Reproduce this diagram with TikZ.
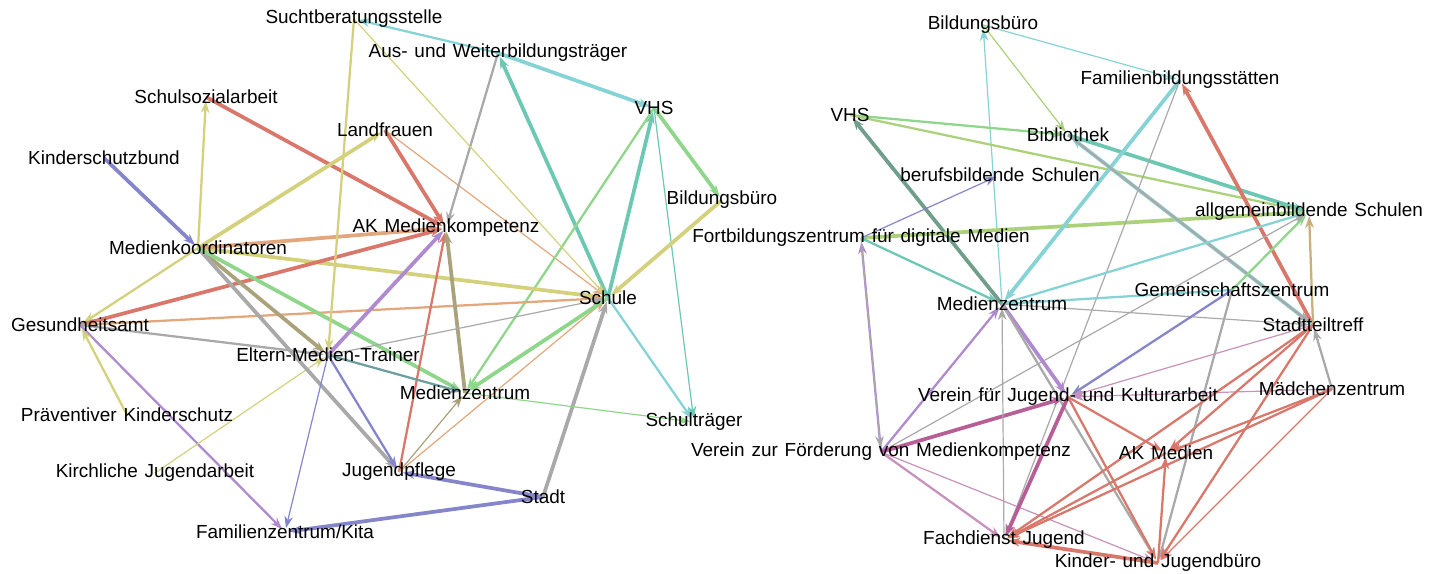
\documentclass[tikz,border=0pt]{standalone}
\usepackage{fontspec}
\setmainfont{Liberation Sans}[WordSpace=1.3]
\usetikzlibrary{arrows.meta,backgrounds}

\definecolor{yel}{HTML}{D4D17C}
\definecolor{red}{HTML}{D9776A}
\definecolor{ora}{HTML}{E3A77D}
\definecolor{gry}{HTML}{A9A9A9}
\definecolor{cya}{HTML}{86D3D6}
\definecolor{tea}{HTML}{6CC7B3}
\definecolor{grn}{HTML}{8ED68A}
\definecolor{ygr}{HTML}{ABD27A}
\definecolor{blu}{HTML}{8585CC}
\definecolor{pur}{HTML}{B08AD0}
\definecolor{oli}{HTML}{A9A27A}
\definecolor{stl}{HTML}{6E9FA0}
\definecolor{mag}{HTML}{B85E96}
\definecolor{pnk}{HTML}{C792BB}
\definecolor{tan}{HTML}{C8B07E}
\definecolor{dtg}{HTML}{6F9E8A}

\begin{document}
\begin{tikzpicture}[x=0.75pt, y=-0.75pt,
    label style/.style={font=\fontsize{14.2}{16}\selectfont, text=black, inner sep=0pt},
    link/.style={-{Stealth[length=9pt,width=6.5pt]}, line width=1.7pt, shorten >=3pt},
    thin link/.style={link, line width=0.9pt},
    heavy link/.style={link, line width=2.8pt},
    ]
    \useasboundingbox (0,0) rectangle (1445,574);

    % left network
    \node[label style] (sucht) at (354,19) {Suchtberatungsstelle};
    \node[label style] (auw) at (498,53) {Aus- und Weiterbildungsträger};
    \node[label style] (vhsL) at (654,108) {VHS};
    \node[label style] (ssa) at (206,97) {Schulsozialarbeit};
    \node[label style] (lf) at (385,130) {Landfrauen};
    \node[label style] (ksb) at (104,158) {Kinderschutzbund};
    \node[label style] (akmk) at (446,228) {AK Medienkompetenz};
    \node[label style] (bbL) at (722,200) {Bildungsbüro};
    \node[label style] (mk) at (198,248) {Medienkoordinatoren};
    \node[label style] (schule) at (608,298) {Schule};
    \node[label style] (ga) at (80,325) {Gesundheitsamt};
    \node[label style] (emt) at (328,355) {Eltern-Medien-Trainer};
    \node[label style] (mzL) at (465,393) {Medienzentrum};
    \node[label style] (stt) at (694,422) {Schulträger};
    \node[label style] (pks) at (127,415) {Präventiver Kinderschutz};
    \node[label style] (kja) at (155,473) {Kirchliche Jugendarbeit};
    \node[label style] (jp) at (399,472) {Jugendpflege};
    \node[label style] (stadt) at (543,497) {Stadt};
    \node[label style] (fzk) at (285,532) {Familienzentrum/Kita};

    % right network
    \node[label style] (bbR) at (983,25) {Bildungsbüro};
    \node[label style] (fbs) at (1180,80) {Familienbildungsstätten};
    \node[label style] (vhsR) at (850,115) {VHS};
    \node[label style] (bib) at (1068,135) {Bibliothek};
    \node[label style] (bbs) at (1000,175) {berufsbildende Schulen};
    \node[label style] (abs) at (1309,212) {allgemeinbildende Schulen};
    \node[label style] (fzdm) at (861,238) {Fortbildungszentrum für digitale Medien};
    \node[label style] (mzR) at (1002,304) {Medienzentrum};
    \node[label style] (gz) at (1232,290) {Gemeinschaftszentrum};
    \node[label style] (st) at (1313,325) {Stadtteiltreff};
    \node[label style] (mdz) at (1332,389) {Mädchenzentrum};
    \node[label style] (vjk) at (1068,397) {Verein für Jugend- und Kulturarbeit};
    \node[label style] (vfm) at (881,452) {Verein zur Förderung von Medienkompetenz};
    \node[label style] (akm) at (1166,453) {AK Medien};
    \node[label style] (fdj) at (1004,540) {Fachdienst Jugend};
    \node[label style] (kjb) at (1158,563) {Kinder- und Jugendbüro};

    \begin{pgfonlayer}{background}
    \draw[heavy link, blu] (ksb.center) -- (mk.center);
    \draw[link, yel] (mk.center) -- (ssa.center);
    \draw[heavy link, red] (ssa.center) -- (akmk.center);
    \draw[heavy link, yel] (mk.center) -- (lf.center);
    \draw[link, yel] (mk.center) -- (ga.center);
    \draw[heavy link, red] (lf.center) -- (akmk.center);
    \draw[thin link, ora] (lf.center) -- (schule.center);
    \draw[link, gry] (auw.center) -- (akmk.center);
    \draw[link, cya] (auw.center) -- (sucht.center);
    \draw[heavy link, cya] (auw.center) -- (vhsL.center);
    \draw[heavy link, tea] (schule.center) -- (auw.center);
    \draw[heavy link, tea] (schule.center) -- (vhsL.center);
    \draw[link, grn] (vhsL.center) -- (mzL.center);
    \draw[heavy link, grn] (vhsL.center) -- (bbL.center);
    \draw[thin link, tea] (vhsL.center) -- (stt.center);
    \draw[link, cya] (schule.center) -- (stt.center);
    \draw[heavy link, yel] (bbL.center) -- (schule.center);
    \draw[heavy link, yel] (mk.center) -- (schule.center);
    \draw[heavy link, ora] (mk.center) -- (akmk.center);
    \draw[heavy link, red] (ga.center) -- (akmk.center);
    \draw[link, ora] (ga.center) -- (schule.center);
    \draw[link, gry] (ga.center) -- (emt.center);
    \draw[link, pur] (ga.center) -- (fzk.center);
    \draw[link, yel] (pks.center) -- (ga.center);
    \draw[thin link, yel] (kja.center) -- (emt.center);
    \draw[heavy link, oli] (mk.center) -- (emt.center);
    \draw[heavy link, gry] (mk.center) -- (jp.center);
    \draw[link, blu] (emt.center) -- (jp.center);
    \draw[heavy link, grn] (mk.center) -- (mzL.center);
    \draw[heavy link, pur] (emt.center) -- (akmk.center);
    \draw[thin link, blu] (emt.center) -- (fzk.center);
    \draw[link, red] (jp.center) -- (akmk.center);
    \draw[heavy link, oli] (mzL.center) -- (akmk.center);
    \draw[thin link, oli] (jp.center) -- (mzL.center);
    \draw[thin link, ora] (jp.center) -- (schule.center);
    \draw[heavy link, blu] (stadt.center) -- (jp.center);
    \draw[heavy link, blu] (stadt.center) -- (fzk.center);
    \draw[heavy link, gry] (stadt.center) -- (schule.center);
    \draw[thin link, grn] (mzL.center) -- (stt.center);
    \draw[heavy link, grn] (schule.center) -- (mzL.center);
    \draw[link, yel] (sucht.center) -- (emt.center);
    \draw[thin link, yel] (sucht.center) -- (schule.center);
    \draw[link, stl] (emt.center) -- (mzL.center);
    \draw[thin link, gry] (emt.center) -- (schule.center);

    \draw[thin link, cya] (mzR.center) -- (bbR.center);
    \draw[thin link, cya] (bbR.center) -- (fbs.center);
    \draw[thin link, ygr] (bbR.center) -- (bib.center);
    \draw[link, grn] (vhsR.center) -- (bib.center);
    \draw[link, ygr] (vhsR.center) -- (abs.center);
    \draw[heavy link, tea] (bib.center) -- (abs.center);
    \draw[heavy link, dtg] (mzR.center) -- (vhsR.center);
    \draw[heavy link, ygr] (fzdm.center) -- (abs.center);
    \draw[thin link, blu] (fzdm.center) -- (bbs.center);
    \draw[link, tea] (fzdm.center) -- (mzR.center);
    \draw[link, pur] (vfm.center) -- (fzdm.center);
    \draw[thin link, gry] (fzdm.center) -- (vfm.center);
    \draw[heavy link, cya] (fbs.center) -- (mzR.center);
    \draw[thin link, gry] (fbs.center) -- (fdj.center);
    \draw[heavy link, red] (st.center) -- (fbs.center);
    \draw[heavy link, cya] (st.center) -- (bib.center);
    \draw[link, gry] (bib.center) -- (st.center);
    \draw[link, tan] (st.center) -- (abs.center);
    \draw[link, grn] (gz.center) -- (abs.center);
    \draw[link, cya] (mzR.center) -- (abs.center);
    \draw[thin link, gry] (vfm.center) -- (abs.center);
    \draw[thin link, gry] (mzR.center) -- (st.center);
    \draw[link, cya] (gz.center) -- (mzR.center);
    \draw[link, blu] (gz.center) -- (vjk.center);
    \draw[link, gry] (gz.center) -- (kjb.center);
    \draw[thin link, pnk] (st.center) -- (vjk.center);
    \draw[thin link, pnk] (mdz.center) -- (vjk.center);
    \draw[heavy link, pur] (mzR.center) -- (vjk.center);
    \draw[link, pur] (vfm.center) -- (mzR.center);
    \draw[heavy link, mag] (vfm.center) -- (vjk.center);
    \draw[thin link, gry] (fdj.center) -- (mzR.center);
    \draw[link, gry] (mzR.center) -- (kjb.center);
    \draw[link, pnk] (vfm.center) -- (fdj.center);
    \draw[thin link, pnk] (vfm.center) -- (kjb.center);
    \draw[heavy link, mag] (vjk.center) -- (fdj.center);
    \draw[link, red] (vjk.center) -- (akm.center);
    \draw[link, red] (vjk.center) -- (kjb.center);
    \draw[link, red] (st.center) -- (akm.center);
    \draw[link, red] (st.center) -- (fdj.center);
    \draw[link, red] (st.center) -- (kjb.center);
    \draw[link, red] (mdz.center) -- (akm.center);
    \draw[thin link, red] (mdz.center) -- (kjb.center);
    \draw[link, gry] (mdz.center) -- (st.center);
    \draw[link, red] (mdz.center) -- (fdj.center);
    \draw[link, red] (kjb.center) -- (akm.center);
    \draw[heavy link, red] (kjb.center) -- (fdj.center);
    \draw[link, red] (akm.center) -- (fdj.center);
    \end{pgfonlayer}

\end{tikzpicture}
\end{document}
